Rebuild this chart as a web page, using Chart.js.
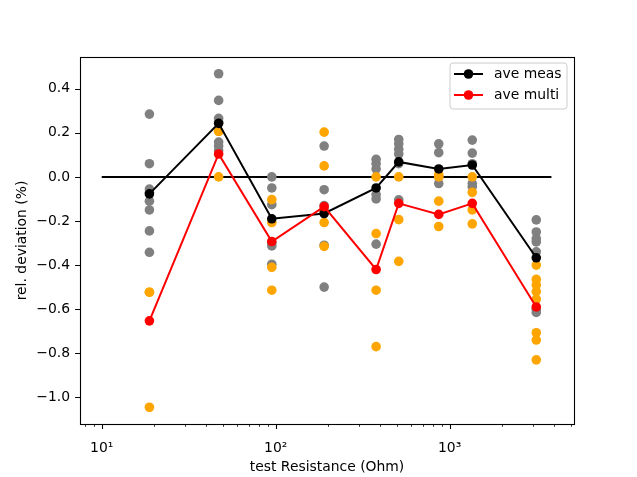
<!DOCTYPE html>
<html>
<head>
<meta charset="utf-8">
<script src="https://cdn.jsdelivr.net/npm/chart.js@4/dist/chart.umd.min.js"></script>
<style>
  html, body { margin: 0; padding: 0; background: #fff; }
  #wrap { width: 637px; height: 477px; }
</style>
</head>
<body>
<div id="wrap"><canvas id="c" width="637" height="477"></canvas></div>
<script>
// ---- data ----
const resistances = [18.8, 47, 95, 190, 378, 510, 866, 1350, 3150];
const measValues = [
  [0.285, 0.06, -0.055, -0.07, -0.11, -0.15, -0.245, -0.342],
  [0.468, 0.347, 0.266, 0.25, 0.158, 0.14, 0.12],
  [0.0, -0.05, -0.126, -0.3, -0.313, -0.396],
  [0.14, -0.058, -0.13, -0.15, -0.31, -0.5],
  [0.08, 0.06, 0.036, -0.08, -0.1, -0.305],
  [0.17, 0.15, 0.126, 0.104, 0.06, -0.104],
  [0.15, 0.11, 0.0, -0.03],
  [0.167, 0.108, 0.06, -0.03, -0.045],
  [-0.195, -0.25, -0.28, -0.295, -0.34, -0.6, -0.615]
];
const multiValues = [
  [-0.523, -0.523, -1.045],
  [0.207, 0.207, 0.0],
  [-0.103, -0.207, -0.41, -0.514],
  [0.203, 0.05, -0.16, -0.207, -0.315],
  [0.0, -0.257, -0.514, -0.77],
  [0.0, -0.194, -0.383],
  [0.01, 0.0, -0.11, -0.225],
  [0.0, -0.07, -0.15, -0.213],
  [-0.40, -0.465, -0.49, -0.52, -0.555, -0.707, -0.74, -0.83]
];
const aveMeas  = [-0.077, 0.243, -0.19, -0.166, -0.05, 0.068, 0.036, 0.054, -0.367];
const aveMulti = [-0.653, 0.104, -0.293, -0.135, -0.42, -0.12, -0.17, -0.12, -0.59];
const zeroLineX = [10, 3850];
const yTickValues = [-1.0, -0.8, -0.6, -0.4, -0.2, 0.0, 0.2, 0.4];
const xMajorTicks = [10, 100, 1000];
const xMajorLabels = ['10\u00b9', '10\u00b2', '10\u00b3'];
const xMinorTicks = [8, 9, 20, 30, 40, 50, 60, 70, 80, 90, 200, 300, 400, 500, 600, 700, 800, 900, 2000, 3000, 4000, 5000];
const seriesNames = ['ave meas', 'ave multi'];

// ---- build chart ----
const FONT = 'DejaVu Sans';
const FS = 13.9;
const MR = 4.8;
const scatterPts = (vals) => {
  const out = [];
  vals.forEach((col, i) => col.forEach(v => out.push({x: resistances[i], y: v})));
  return out;
};
const linePts = (vals) => vals.map((v, i) => ({x: resistances[i], y: v}));

const allXTicks = xMinorTicks.concat(xMajorTicks).sort((a, b) => a - b);

const framePlugin = {
  id: 'frame',
  afterDatasetsDraw(chart) {
    const {ctx, chartArea: a, scales} = chart;
    ctx.save();
    ctx.strokeStyle = '#000';
    ctx.lineWidth = 1.1;
    ctx.beginPath();
    yTickValues.forEach(v => {
      const y = Math.round(scales.y.getPixelForValue(v)) + 0.5;
      ctx.moveTo(a.left, y); ctx.lineTo(a.left - 4.9, y);
    });
    xMajorTicks.forEach(v => {
      const x = Math.round(scales.x.getPixelForValue(v)) + 0.5;
      ctx.moveTo(x, a.bottom); ctx.lineTo(x, a.bottom + 4.9);
    });
    ctx.stroke();
    ctx.lineWidth = 0.8;
    ctx.beginPath();
    xMinorTicks.forEach(v => {
      const x = Math.round(scales.x.getPixelForValue(v)) + 0.5;
      ctx.moveTo(x, a.bottom); ctx.lineTo(x, a.bottom + 2.8);
    });
    ctx.stroke();
    ctx.lineWidth = 1.1;
    ctx.strokeRect(Math.round(a.left) + 0.5, Math.round(a.top) + 0.5,
                   Math.round(a.right - a.left), Math.round(a.bottom - a.top));
    ctx.restore();
  }
};

const legendPlugin = {
  id: 'boxLegend',
  afterDraw(chart) {
    const {ctx} = chart;
    const items = [chart.data.datasets[3], chart.data.datasets[4]];
    const bx = 450, by = 63, bw = 117, bh = 46, r = 3;
    ctx.save();
    ctx.beginPath();
    ctx.moveTo(bx + r, by);
    ctx.arcTo(bx + bw, by, bx + bw, by + bh, r);
    ctx.arcTo(bx + bw, by + bh, bx, by + bh, r);
    ctx.arcTo(bx, by + bh, bx, by, r);
    ctx.arcTo(bx, by, bx + bw, by, r);
    ctx.closePath();
    ctx.fillStyle = 'rgba(255,255,255,0.8)';
    ctx.fill();
    ctx.strokeStyle = '#cccccc';
    ctx.lineWidth = 1;
    ctx.stroke();
    items.forEach((ds, i) => {
      const y = 74 + i * 21;
      ctx.strokeStyle = ds.borderColor;
      ctx.lineWidth = 2;
      ctx.beginPath(); ctx.moveTo(454, y); ctx.lineTo(483, y); ctx.stroke();
      ctx.fillStyle = ds.pointBackgroundColor;
      ctx.beginPath(); ctx.arc(468.5, y, MR, 0, Math.PI * 2); ctx.fill();
      ctx.fillStyle = '#000';
      ctx.font = FS + 'px "' + FONT + '"';
      ctx.textBaseline = 'middle';
      ctx.textAlign = 'left';
      ctx.fillText(ds.label, 494, y);
    });
    ctx.restore();
  }
};

new Chart(document.getElementById('c'), {
  type: 'scatter',
  data: {
    datasets: [
      { label: 'zero', data: zeroLineX.map(x => ({x, y: 0})), showLine: true,
        borderColor: '#000', borderWidth: 2, pointRadius: 0, order: 5 },
      { label: 'meas', data: scatterPts(measValues), backgroundColor: '#808080',
        pointBackgroundColor: '#808080', borderWidth: 0, pointRadius: MR, order: 4 },
      { label: 'multi', data: scatterPts(multiValues), backgroundColor: '#ffa500',
        pointBackgroundColor: '#ffa500', borderWidth: 0, pointRadius: MR, order: 3 },
      { label: seriesNames[0], data: linePts(aveMeas), showLine: true,
        borderColor: '#000000', borderWidth: 2, pointBackgroundColor: '#000000',
        pointBorderWidth: 0, pointRadius: MR, order: 2 },
      { label: seriesNames[1], data: linePts(aveMulti), showLine: true,
        borderColor: '#ff0000', borderWidth: 2, pointBackgroundColor: '#ff0000',
        pointBorderWidth: 0, pointRadius: MR, order: 1 }
    ]
  },
  options: {
    responsive: false,
    animation: false,
    events: [],
    layout: { padding: { top: 57, right: 63, bottom: 0, left: 0 } },
    plugins: { legend: { display: false }, tooltip: { enabled: false } },
    scales: {
      x: {
        type: 'logarithmic',
        min: 7.5, max: 5190,
        afterBuildTicks: (scale) => { scale.ticks = allXTicks.map(v => ({value: v})); },
        afterFit: (scale) => { scale.height = 53; },
        grid: { display: true, drawOnChartArea: false, drawTicks: true, tickLength: 5,
                color: 'rgba(0,0,0,0)', tickColor: 'rgba(0,0,0,0)' },
        border: { display: false },
        ticks: {
          autoSkip: false, maxRotation: 0, minRotation: 0, padding: 11,
          color: '#000', font: { family: FONT, size: FS },
          callback: (v) => { const k = xMajorTicks.indexOf(v); return k >= 0 ? xMajorLabels[k] : ''; }
        },
        title: { display: true, text: 'test Resistance (Ohm)', color: '#000',
                 font: { family: FONT, size: FS }, padding: { top: 0, bottom: 1 } }
      },
      y: {
        type: 'linear',
        min: -1.121, max: 0.544,
        afterBuildTicks: (scale) => { scale.ticks = yTickValues.map(v => ({value: v})); },
        afterFit: (scale) => { scale.width = 80; },
        grid: { display: true, drawOnChartArea: false, drawTicks: true, tickLength: 5,
                color: 'rgba(0,0,0,0)', tickColor: 'rgba(0,0,0,0)' },
        border: { display: false },
        ticks: {
          padding: 5, color: '#000', font: { family: FONT, size: FS },
          callback: (v) => (v < 0 ? '\u2212' : '') + Math.abs(v).toFixed(1)
        },
        title: { display: true, text: 'rel. deviation (%)', color: '#000',
                 font: { family: FONT, size: FS }, padding: { top: 14, bottom: 0 } }
      }
    }
  },
  plugins: [framePlugin, legendPlugin]
});
</script>
</body>
</html>
